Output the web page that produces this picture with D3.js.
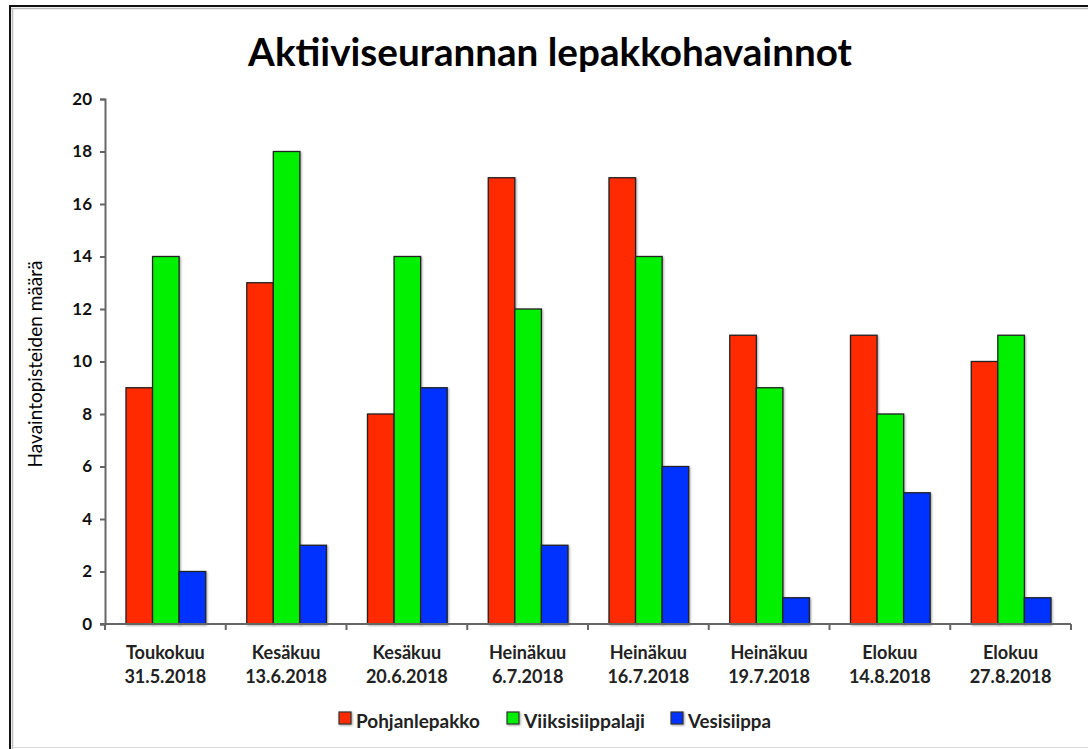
<!DOCTYPE html>
<html>
<head>
<meta charset="utf-8">
<script src="https://cdn.jsdelivr.net/npm/d3@7"></script>
<style>
  html, body { margin: 0; padding: 0; background: #fff; }
  svg { display: block; }
  text { font-family: Lato, "Open Sans", sans-serif; }
</style>
</head>
<body>
<svg id="chart" width="1088" height="749"></svg>
<script>
const title = "Aktiiviseurannan lepakkohavainnot";
const yTitle = "Havaintopisteiden määrä";
const categories = [
  ["Toukokuu", "31.5.2018"],
  ["Kesäkuu", "13.6.2018"],
  ["Kesäkuu", "20.6.2018"],
  ["Heinäkuu", "6.7.2018"],
  ["Heinäkuu", "16.7.2018"],
  ["Heinäkuu", "19.7.2018"],
  ["Elokuu", "14.8.2018"],
  ["Elokuu", "27.8.2018"]
];
const seriesNames = ["Pohjanlepakko", "Viiksisiippalaji", "Vesisiippa"];
const pohjanlepakko = [9, 13, 8, 17, 17, 11, 11, 10];
const viiksisiippalaji = [14, 18, 14, 12, 14, 9, 8, 11];
const vesisiippa = [2, 3, 9, 3, 6, 1, 5, 1];
const seriesValues = [pohjanlepakko, viiksisiippalaji, vesisiippa];
const seriesColors = ["#ff2a00", "#00f000", "#0033ff"];
const yTicks = [0, 2, 4, 6, 8, 10, 12, 14, 16, 18, 20];

const svg = d3.select("#chart");

// frame
svg.append("rect").attr("x", 0).attr("y", 0).attr("width", 1088).attr("height", 749).attr("fill", "#fff");
svg.append("line").attr("x1", 9).attr("x2", 1088).attr("y1", 6).attr("y2", 6).attr("stroke", "#111").attr("stroke-width", 2);
svg.append("line").attr("x1", 10).attr("x2", 10).attr("y1", 5).attr("y2", 749).attr("stroke", "#111").attr("stroke-width", 2);
svg.append("line").attr("x1", 11).attr("x2", 1088).attr("y1", 8.5).attr("y2", 8.5).attr("stroke", "#bbb").attr("stroke-width", 1.5);
svg.append("line").attr("x1", 12.5).attr("x2", 12.5).attr("y1", 8).attr("y2", 749).attr("stroke", "#bbb").attr("stroke-width", 1.5);
svg.append("line").attr("x1", 11).attr("x2", 1088).attr("y1", 747.5).attr("y2", 747.5).attr("stroke", "#ddd").attr("stroke-width", 1);

function fit(sel, target) {
  const node = sel.node();
  const fs = parseFloat(sel.attr("font-size"));
  const w = node.getComputedTextLength();
  if (w > 0) sel.attr("font-size", (fs * target / w).toFixed(2));
}

const defs = svg.append("defs");
const f = defs.append("filter").attr("id", "shadow").attr("x", "-20%").attr("y", "-20%").attr("width", "140%").attr("height", "140%");
f.append("feDropShadow").attr("dx", 1).attr("dy", 1).attr("stdDeviation", 1).attr("flood-color", "#000").attr("flood-opacity", 0.35);

const m = { left: 105, right: 1071, top: 99, bottom: 624 };
const catKeys = categories.map((c, i) => i);
const x = d3.scaleBand().domain(catKeys).range([m.left, m.right]).padding(0);
const bw = x.bandwidth();
const x1 = d3.scaleBand().domain(d3.range(seriesNames.length)).range([bw * 0.174, bw * 0.834]).padding(0);
const y = d3.scaleLinear().domain([0, 20]).range([m.bottom, m.top]);

// title
const t = svg.append("text").attr("x", 550).attr("y", 66).attr("text-anchor", "middle")
  .attr("font-weight", 700).attr("font-size", 30).attr("fill", "#000").text(title);
fit(t, 604);

// y axis title
const yt = svg.append("text").attr("transform", "translate(42,364) rotate(-90)")
  .attr("text-anchor", "middle").attr("font-size", 14).attr("fill", "#000").text(yTitle);
fit(yt, 207);

// bars
const groups = svg.append("g").selectAll("g").data(catKeys).join("g")
  .attr("transform", d => `translate(${x(d)},0)`);
groups.selectAll("rect").data(i => seriesValues.map((vals, s) => ({ s, v: vals[i] }))).join("rect")
  .attr("x", d => x1(d.s)).attr("width", x1.bandwidth())
  .attr("y", d => y(d.v)).attr("height", d => y(0) - y(d.v))
  .attr("fill", d => seriesColors[d.s]).attr("stroke", "#222").attr("stroke-width", 1.3)
  .attr("filter", "url(#shadow)");

// y axis
const yAxis = svg.append("g").attr("transform", `translate(${m.left},0)`)
  .call(d3.axisLeft(y).tickValues(yTicks).tickSize(5).tickPadding(8));
yAxis.select(".domain").attr("stroke", "#666").attr("stroke-width", 2);
yAxis.selectAll(".tick line").attr("stroke", "#666").attr("stroke-width", 2);
yAxis.selectAll(".tick text").attr("font-family", "Lato, sans-serif").attr("font-weight", 700)
  .attr("font-size", 17).attr("fill", "#111");

// x axis
const xAxisG = svg.append("g").attr("transform", `translate(0,${m.bottom})`);
xAxisG.append("line").attr("x1", m.left - 5).attr("x2", m.right).attr("y1", 0).attr("y2", 0)
  .attr("stroke", "#666").attr("stroke-width", 2);
const bounds = catKeys.map(k => x(k)).concat([x(catKeys[catKeys.length - 1]) + bw]);
xAxisG.selectAll("line.tk").data(bounds).join("line").attr("class", "tk")
  .attr("x1", d => d).attr("x2", d => d).attr("y1", 0).attr("y2", 6)
  .attr("stroke", "#666").attr("stroke-width", 2);
const labels = xAxisG.selectAll("text.cl").data(catKeys).join("text").attr("class", "cl")
  .attr("text-anchor", "middle").attr("font-weight", 700).attr("font-size", 16).attr("fill", "#222")
  .attr("x", d => x(d) + bw / 2);
labels.append("tspan").attr("x", d => x(d) + bw / 2).attr("y", 35).text(d => categories[d][0]);
labels.append("tspan").attr("x", d => x(d) + bw / 2).attr("y", 59).text(d => categories[d][1]);
// size the category labels so the first date line matches the reference width
const probe = xAxisG.append("text").attr("font-weight", 700).attr("font-size", 16).text(categories[0][1]);
fit(probe, 82);
const catFs = probe.attr("font-size");
probe.remove();
labels.attr("font-size", catFs);

// legend
const legendX = [339, 507, 671];
const legendW = [124, 121, 83];
const lg = svg.append("g");
seriesNames.forEach((name, i) => {
  lg.append("rect").attr("x", legendX[i]).attr("y", 712).attr("width", 12).attr("height", 12)
    .attr("fill", seriesColors[i]).attr("stroke", "#333").attr("stroke-width", 1.2)
    .attr("filter", "url(#shadow)");
  const tx = lg.append("text").attr("x", legendX[i] + 17).attr("y", 728)
    .attr("font-weight", 700).attr("font-size", 16).attr("fill", "#222").text(name);
  fit(tx, legendW[i]);
});
</script>
</body>
</html>
